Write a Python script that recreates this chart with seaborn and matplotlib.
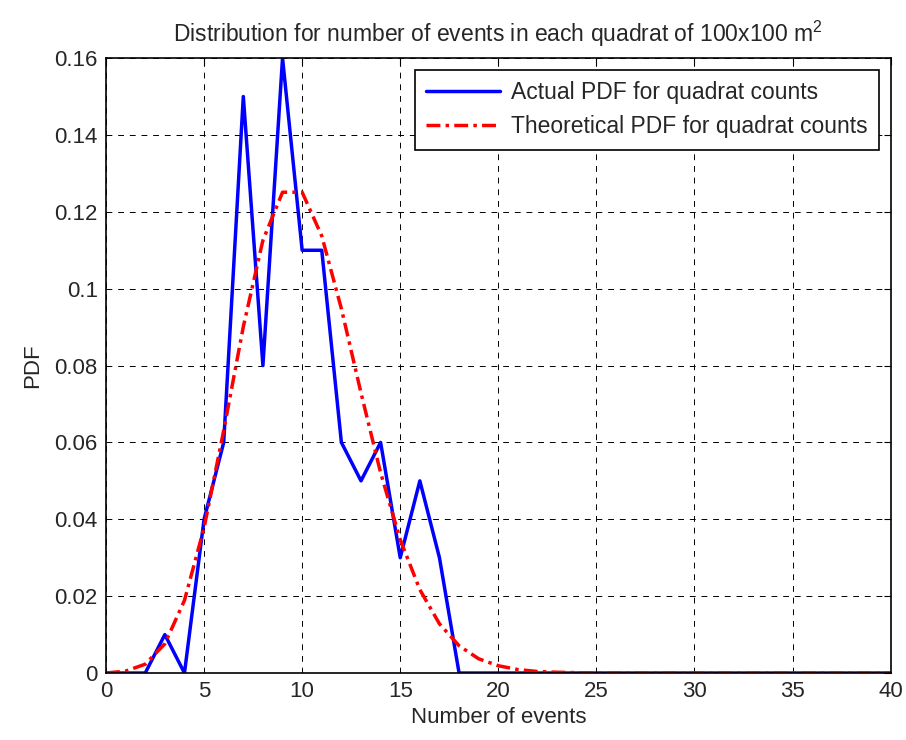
import matplotlib
matplotlib.use('Agg')
import matplotlib.pyplot as plt
import seaborn as sns
import pandas as pd

# counts per quadrat (x axis)
events = list(range(0, 41))

actual_pdf = [0, 0, 0, 0.01, 0, 0.04, 0.06, 0.15, 0.08, 0.16,
              0.11, 0.11, 0.06, 0.05, 0.06, 0.03, 0.05, 0.03, 0, 0,
              0, 0, 0, 0, 0, 0, 0, 0, 0, 0,
              0, 0, 0, 0, 0, 0, 0, 0, 0, 0, 0]

# theoretical pdf
theory_pdf = [0.0000, 0.0005, 0.0023, 0.0076, 0.0189, 0.0378, 0.0631, 0.0901, 0.1126, 0.1251,
              0.1251, 0.1137, 0.0948, 0.0729, 0.0521, 0.0347, 0.0217, 0.0128, 0.0071, 0.0037,
              0.0019, 0.0009, 0.0004, 0.0002, 0.0001, 0, 0, 0, 0, 0,
              0, 0, 0, 0, 0, 0, 0, 0, 0, 0, 0]

df = pd.DataFrame({'events': events, 'actual': actual_pdf, 'theory': theory_pdf})

sns.set_style('white')
plt.rcParams['font.family'] = ['Liberation Sans', 'DejaVu Sans']
plt.rcParams['mathtext.fontset'] = 'custom'
plt.rcParams['mathtext.rm'] = 'Liberation Sans'

fs = 16

fig = plt.figure(figsize=(9.06, 7.4), dpi=100)
ax = fig.add_axes([0.117, 0.0905, 0.866, 0.831])

sns.lineplot(data=df, x='events', y='actual', ax=ax, color='#0000ff', lw=2.5,
             label='Actual PDF for quadrat counts')
sns.lineplot(data=df, x='events', y='theory', ax=ax, color='#ff0000', lw=2.5,
             linestyle=(0, (4, 1.5, 1, 1.5)), label='Theoretical PDF for quadrat counts')

ax.set_xlim(0, 40)
ax.set_ylim(0, 0.16)
ax.set_xticks(range(0, 41, 5))
ax.set_yticks([0, 0.02, 0.04, 0.06, 0.08, 0.1, 0.12, 0.14, 0.16])
ax.set_yticklabels(['0', '0.02', '0.04', '0.06', '0.08', '0.1', '0.12', '0.14', '0.16'])
ax.grid(True, color='black', linestyle=(0, (6, 6)), lw=0.7)
ax.tick_params(direction='in', length=5, labelsize=fs, top=True, right=True, color='black', pad=6)
for s in ax.spines.values():
    s.set_color('black')
    s.set_linewidth(1.2)

ax.set_xlabel('Number of events', fontsize=fs, labelpad=3)
ax.set_ylabel('PDF', fontsize=fs, labelpad=8)
ax.set_title('Distribution for number of events in each quadrat of 100x100 m$^2$', fontsize=16.5, pad=12)

leg = ax.legend(loc='upper right', fontsize=16.5, fancybox=False, framealpha=1,
                edgecolor='black', handlelength=3.2, handletextpad=0.5,
                labelspacing=0.5, borderpad=0.5, borderaxespad=0.5)
leg.get_frame().set_linewidth(1.2)

fig.savefig('out.png', dpi=100)
